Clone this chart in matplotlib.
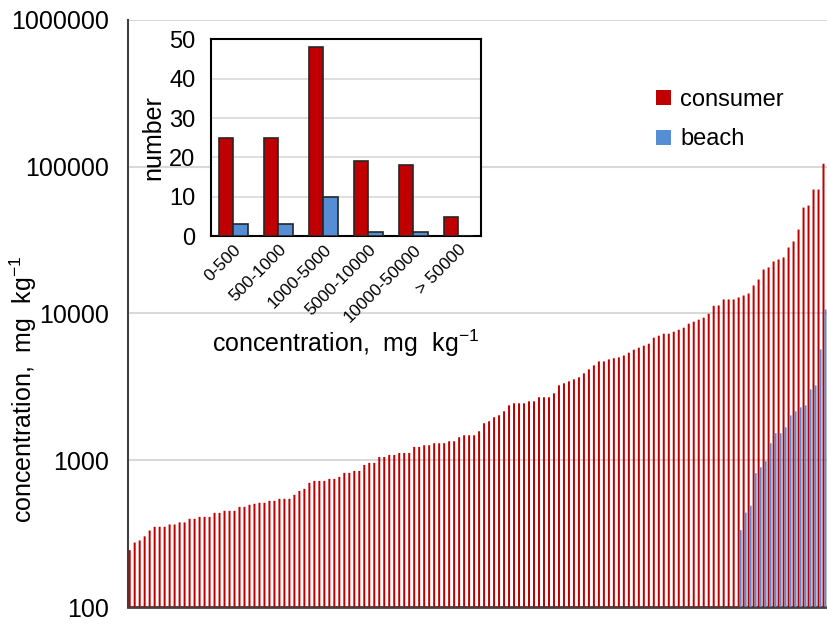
import numpy as np
from matplotlib import pyplot as plt
from matplotlib.ticker import FixedLocator, NullLocator

plt.rcParams['font.family'] = ['Liberation Sans', 'DejaVu Sans']
plt.rcParams['mathtext.fontset'] = 'custom'
plt.rcParams['mathtext.rm'] = 'Liberation Sans'
plt.rcParams['mathtext.default'] = 'regular'

# sorted concentrations, mg/kg
consumer = [244, 275, 284, 303, 332, 352, 352, 352, 365, 365, 377, 377, 399, 399, 411, 411, 411, 438, 438, 452,
            452, 452, 481, 481, 497, 505, 513, 513, 529, 529, 546, 546, 546, 581, 618, 638, 701, 723, 723,
            723, 746, 746, 770, 820, 820, 846, 846, 929, 959, 959, 1052, 1052, 1086, 1086, 1121, 1121, 1121, 1232, 1232,
            1265, 1265, 1305, 1305, 1305, 1347, 1347, 1433, 1479, 1479, 1479, 1575, 1786, 1842, 1963, 2024, 2154, 2366,
            2442, 2442,
            2442, 2519, 2519, 2684, 2684, 2684, 2857, 3238, 3342, 3446, 3557, 3671, 3907, 4158, 4425, 4710, 4710, 4862,
            4950, 5020,
            5170, 5400, 5662, 5842, 6031, 6220, 6835, 7051, 7275, 7275, 7507, 7746, 7994, 8511, 8785, 9066, 9355,
            9955, 11270,
            11330, 12450, 12450, 12450, 12850, 13250, 13680, 15500, 17020, 19910, 20560, 22590, 23300, 24050, 28120,
            30920, 37260, 52600, 54300, 69800, 69800, 104700]
beach = [334, 440, 490, 816, 896, 985, 1306, 1528, 1528, 1677, 2022, 2155, 2293, 2364, 3040, 3236, 5690, 10650]

# inset histogram
bins = ['0-500', '500-1000', '1000-5000', '5000-10000', '10000-50000', '> 50000']
consumer_counts = [25, 25, 48, 19, 18, 5]
beach_counts = [3, 3, 10, 1, 1, 0]

red = '#C00000'
blue = '#558ED5'
unit = r'concentration,  mg  kg$^{-1}$'

fig = plt.figure(figsize=(8.27, 6.30), dpi=100)
ax = fig.add_axes([0.155, 0.0365, 0.845, 0.932])
ax.set_yscale('log')

n = len(consumer)
x = np.arange(n)
xb = np.arange(n - len(beach), n)
w = 0.4
b1 = ax.bar(x - w / 2, consumer, width=w, color=red, label='consumer', zorder=3, snap=False)
b2 = ax.bar(xb + w / 2, beach, width=w, color=blue, label='beach', zorder=3, snap=False)

ax.set_xlim(-0.5, n - 0.5)
ax.set_ylim(100, 1000000)
yt = [100, 1000, 10000, 100000, 1000000]
ax.yaxis.set_major_locator(FixedLocator(yt))
ax.yaxis.set_minor_locator(NullLocator())
ax.set_yticklabels([str(v) for v in yt], fontsize=18)
ax.set_xticks([])
ax.tick_params(axis='y', length=0, pad=14)
ax.grid(axis='y', color='#d9d9d9', linewidth=1.5, zorder=0)
for s in ['top', 'right']:
    ax.spines[s].set_visible(False)
ax.spines['left'].set_color('#404040')
ax.spines['left'].set_linewidth(1.5)
ax.spines['bottom'].set_color('#404040')
ax.spines['bottom'].set_linewidth(2)
ax.set_ylabel(unit, fontsize=18)
ax.yaxis.set_label_coords(-0.128, 0.37)

fig.legend(handles=[b1, b2], loc='upper left', bbox_to_anchor=(0.768, 0.893), frameon=False,
           fontsize=17, handlelength=0.6, handleheight=0.6, handletextpad=0.4, labelspacing=0.75)

# inset
ins = fig.add_axes([0.255, 0.625, 0.3265, 0.3127])
xi = np.arange(len(bins))
wi = 0.32
ins.bar(xi - wi / 2, consumer_counts, width=wi, color=red, edgecolor='#262626', linewidth=1.2, zorder=3)
ins.bar(xi + wi / 2, beach_counts, width=wi, color=blue, edgecolor='#262626', linewidth=1.2, zorder=3)
ins.set_xlim(-0.5, len(bins) - 0.5)
ins.set_ylim(0, 50)
ins.set_yticks([0, 10, 20, 30, 40, 50])
ins.tick_params(axis='y', length=0, labelsize=17, pad=11)
ins.set_xticks(xi)
ins.set_xticklabels(bins, rotation=45, ha='right', rotation_mode='anchor', fontsize=12.5)
ins.tick_params(axis='x', length=0, pad=4)
ins.grid(axis='y', color='#d9d9d9', linewidth=1.2, zorder=0)
for s in ins.spines.values():
    s.set_color('black')
    s.set_linewidth(1.5)
ins.set_ylabel('number', fontsize=18, labelpad=3)
ins.set_xlabel(unit, fontsize=18, labelpad=2)

fig.savefig('out.png', dpi=100)
